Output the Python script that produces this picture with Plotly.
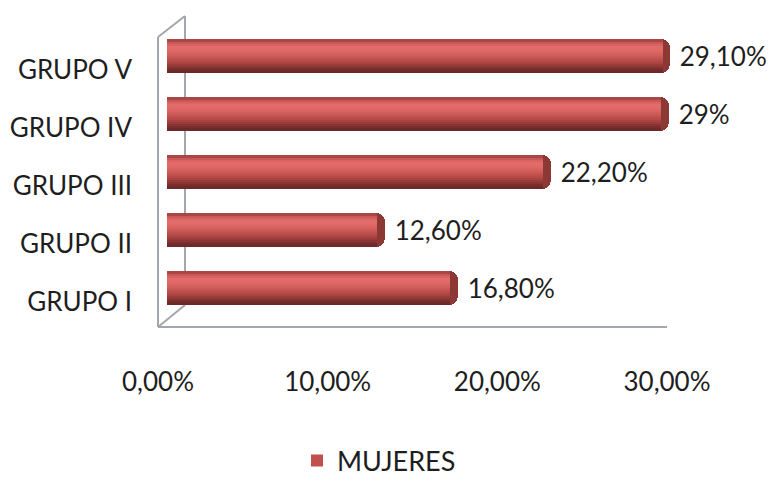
import plotly.graph_objects as go

categories = ["GRUPO I", "GRUPO II", "GRUPO III", "GRUPO IV", "GRUPO V"]
values = [16.8, 12.6, 22.2, 29.0, 29.1]
value_labels = ["16,80%", "12,60%", "22,20%", "29%", "29,10%"]
tick_vals = [0, 10, 20, 30]
tick_text = ["0,00%", "10,00%", "20,00%", "30,00%"]
series_name = "MUJERES"

W, H = 770, 480
FONT = "Lato"
TXT = "#1e1e1e"
GRID = "#A3A7AC"

# cylinder shading, top -> bottom
stripe_colors = ["#A94744", "#C9585A", "#DA6461", "#E26C69", "#E26B68",
                 "#DE6865", "#D86360", "#D15E5B", "#C95855", "#C0504D",
                 "#B54A47", "#A84341", "#993C3A", "#8A3533", "#7A2E2C",
                 "#6C2927"]
legend_stripe = 9
bar_w = 0.57
cap = 0.45

def px(x):
    return x / W

def py(y):
    return 1 - y / H

fig = go.Figure()

# dark base (end cap) with rounded end, carries the value labels
fig.add_trace(go.Bar(
    y=categories, x=values, orientation="h", width=bar_w,
    marker=dict(color="#8C3936", line=dict(width=0), cornerradius=9),
    text=value_labels, texttemplate="\u00a0%{text}",
    textposition="outside", cliponaxis=False,
    textfont=dict(family=FONT, size=26, color=TXT),
    showlegend=False, hoverinfo="skip",
))

n = len(stripe_colors)
# draw from the bottom colour (full height) up, each layer covering from the top
for i in range(n - 1, -1, -1):
    fig.add_trace(go.Bar(
        y=categories, x=[v - cap for v in values], orientation="h",
        width=(i + 1) * bar_w / n, offset=bar_w / 2 - (i + 1) * bar_w / n,
        marker=dict(color=stripe_colors[i], line=dict(width=0)),
        name=series_name, showlegend=(i == legend_stripe),
        hoverinfo="skip",
    ))

# empty trace so the tick axis is rendered
fig.add_trace(go.Scatter(x=[], y=[], xaxis="x2", yaxis="y",
                         showlegend=False, hoverinfo="skip"))

fig.update_layout(
    width=W, height=H, barmode="overlay", bargap=0,
    paper_bgcolor="white", plot_bgcolor="rgba(0,0,0,0)",
    margin=dict(l=0, r=0, t=0, b=0, autoexpand=False),
    font=dict(family=FONT, size=26, color=TXT),
    xaxis=dict(domain=[px(167), px(167 + 30 * 17.3)], range=[0, 30],
               showgrid=False, zeroline=False, showticklabels=False,
               showline=False, fixedrange=True, automargin=False),
    xaxis2=dict(domain=[px(158), px(667)], range=[0, 30], anchor="free",
                position=py(327), automargin=False,
                tickvals=tick_vals, ticktext=tick_text, ticks="",
                showgrid=False, zeroline=False, showline=False,
                ticklabelstandoff=37,
                tickfont=dict(family=FONT, size=26, color=TXT)),
    yaxis=dict(domain=[py(317), py(27)], range=[-0.5, 4.5], automargin=False,
               showgrid=False, zeroline=False, showline=False, ticks="",
               ticklabelstandoff=34, ticklabelshift=14,
               tickfont=dict(family=FONT, size=26, color=TXT)),
    legend=dict(orientation="h", x=0.5 - 6 / W, xanchor="center", y=py(461),
                yanchor="middle", font=dict(family=FONT, size=27, color=TXT),
                itemwidth=30),
)

# 3-D walls / floor outline
lines = [
    ((158, 37), (158, 327)),
    ((158, 327), (667, 327)),
    ((158, 37), (185, 16)),
    ((185, 16), (185, 305)),
    ((158, 327), (185, 305)),
]
for (x0, y0), (x1, y1) in lines:
    fig.add_shape(type="line", xref="paper", yref="paper",
                  x0=px(x0), y0=py(y0), x1=px(x1), y1=py(y1),
                  line=dict(color=GRID, width=2), layer="below")

fig.write_html("out.html")
